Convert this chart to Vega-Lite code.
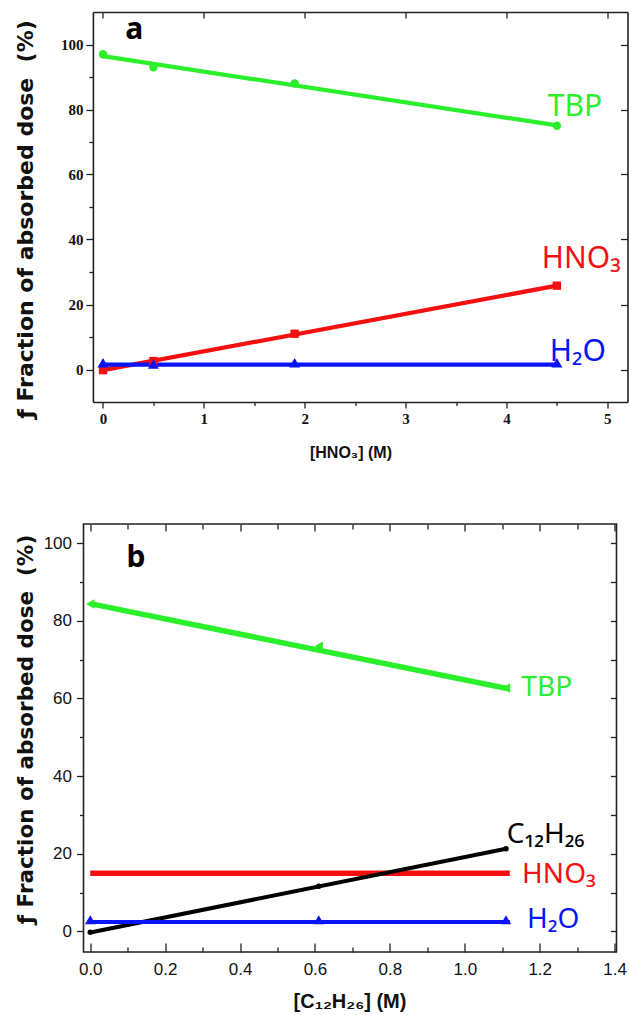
{
  "$schema": "https://vega.github.io/schema/vega-lite/v6.json",
  "background": "white",
  "padding": {"left": 14.5, "top": 11, "right": 0, "bottom": 0},
  "spacing": 62,
  "config": {
    "view": {"stroke": "#222", "strokeWidth": 1.6},
    "axis": {"grid": false, "domain": false, "domainColor": "#222", "domainWidth": 1.6, "tickColor": "#222", "tickWidth": 1.3, "labelColor": "#111", "titleColor": "#111", "labelFlush": false, "labelOverlap": false}
  },
  "resolve": {"scale": {"shape": "independent"}},
  "datasets": {
    "a_pts": [
      {"series": "TBP", "x": 0, "y": 97}, {"series": "TBP", "x": 0.5, "y": 93}, {"series": "TBP", "x": 1.9, "y": 88}, {"series": "TBP", "x": 4.5, "y": 75},
      {"series": "HNO3", "x": 0, "y": -0.2}, {"series": "HNO3", "x": 0.5, "y": 2.6}, {"series": "HNO3", "x": 1.9, "y": 11}, {"series": "HNO3", "x": 4.5, "y": 25.8},
      {"series": "H2O", "x": 0, "y": 2.1}, {"series": "H2O", "x": 0.5, "y": 1.7}, {"series": "H2O", "x": 1.9, "y": 2.1}, {"series": "H2O", "x": 4.5, "y": 2.1}
    ],
    "a_fit": [
      {"series": "TBP", "x": 0, "y": 96.4}, {"series": "TBP", "x": 4.5, "y": 75.1},
      {"series": "HNO3", "x": 0, "y": -0.2}, {"series": "HNO3", "x": 4.5, "y": 25.8},
      {"series": "H2O", "x": 0, "y": 1.5}, {"series": "H2O", "x": 4.5, "y": 1.5}
    ],
    "a_lbl": [
      {"series": "TBP", "label": "TBP", "x": 4.41, "y": 77.9},
      {"series": "HNO3", "label": "HNO₃", "x": 4.35, "y": 31.2},
      {"series": "H2O", "label": "H₂O", "x": 4.43, "y": 2.6}
    ],
    "a_tag": [{"t": "a", "x": 0.31, "y": 101.6}],
    "b_pts": [
      {"series": "TBP", "x": 0, "y": 84.3}, {"series": "TBP", "x": 0.61, "y": 73.4}, {"series": "TBP", "x": 1.11, "y": 62.7},
      {"series": "C12H26", "x": 0, "y": -0.2}, {"series": "C12H26", "x": 0.61, "y": 11.6}, {"series": "C12H26", "x": 1.11, "y": 21.3},
      {"series": "H2O", "x": 0, "y": 3.0}, {"series": "H2O", "x": 0.61, "y": 3.0}, {"series": "H2O", "x": 1.11, "y": 3.0}
    ],
    "b_fit": [
      {"series": "TBP", "x": 0, "y": 84.4}, {"series": "TBP", "x": 1.12, "y": 62.4},
      {"series": "HNO3", "x": 0, "y": 15}, {"series": "HNO3", "x": 1.12, "y": 15},
      {"series": "C12H26", "x": 0, "y": -0.3}, {"series": "C12H26", "x": 1.11, "y": 21.3},
      {"series": "H2O", "x": 0, "y": 2.4}, {"series": "H2O", "x": 1.12, "y": 2.4}
    ],
    "b_lbl": [
      {"series": "TBP", "label": "TBP", "x": 1.151, "y": 60.5},
      {"series": "C12H26", "label": "C₁₂H₂₆", "x": 1.112, "y": 22.8},
      {"series": "HNO3", "label": "HNO₃", "x": 1.153, "y": 12.5},
      {"series": "H2O", "label": "H₂O", "x": 1.166, "y": 0.95}
    ],
    "b_tag": [{"t": "b", "x": 0.122, "y": 93.9}]
  },
  "vconcat": [
    {
      "width": 544,
      "height": 390,
      "view": {"stroke": null},
      "resolve": {"axis": {"x": "independent", "y": "independent"}},
      "layer": [
        {
          "data": {"name": "a_fit"},
          "mark": {"type": "line", "strokeWidth": 4.2},
          "encoding": {
            "x": {"field": "x", "type": "quantitative", "scale": {"domain": [-0.1, 5.2], "range": [9.4, 544], "nice": false, "zero": false},
              "axis": {"orient": "bottom", "domain": true, "values": [0, 1, 2, 3, 4, 5], "format": "d", "tickSize": 6, "labelPadding": 3, "labelFont": "Liberation Sans Narrow", "labelFontWeight": "bold", "labelFontSize": 15,
                "title": "[HNO₃] (M)", "titleFont": "Liberation Sans", "titleFontWeight": "bold", "titleFontSize": 16, "titleX": 267, "titleY": 55, "titleBaseline": "alphabetic", "titleAlign": "center"}},
            "y": {"field": "y", "type": "quantitative", "scale": {"domain": [-10, 110], "nice": false, "zero": false},
              "axis": {"orient": "left", "offset": -9.4, "domain": true, "values": [0, 20, 40, 60, 80, 100], "tickSize": 7, "labelPadding": 3, "labelFont": "Liberation Sans Narrow", "labelFontWeight": "bold", "labelFontSize": 15,
                "title": "ƒ Fraction of absorbed dose\u00a0\u00a0(%)", "titleFont": "DejaVu Sans", "titleFontWeight": "bold", "titleFontSize": 22, "titleX": -60, "titleY": 207, "titleBaseline": "alphabetic", "titleAlign": "center", "titleAngle": -90}},
            "color": {"field": "series", "type": "nominal", "scale": {"domain": ["TBP", "HNO3", "H2O", "C12H26"], "range": ["#2bef2b", "#f41010", "#0a14f5", "#000000"]}, "legend": null},
            "detail": {"field": "series"}
          }
        },
        {
          "data": {"name": "a_pts"},
          "transform": [{"filter": {"field": "series", "oneOf": ["TBP", "HNO3"]}}],
          "mark": {"type": "point", "filled": true, "opacity": 1, "size": 70},
          "encoding": {
            "x": {"field": "x", "type": "quantitative", "scale": {"domain": [-0.1, 5.2], "range": [9.4, 544], "nice": false, "zero": false},
              "axis": {"orient": "bottom", "values": [0.5, 1.5, 2.5, 3.5, 4.5], "tickSize": 3.5, "labels": false, "title": null}},
            "y": {"field": "y", "type": "quantitative", "scale": {"domain": [-10, 110], "nice": false, "zero": false},
              "axis": {"orient": "left", "offset": -9.4, "values": [10, 30, 50, 70, 90], "tickSize": 4, "labels": false, "title": null}},
            "color": {"field": "series", "type": "nominal", "scale": {"domain": ["TBP", "HNO3", "H2O", "C12H26"], "range": ["#2bef2b", "#f41010", "#0a14f5", "#000000"]}, "legend": null},
            "shape": {"field": "series", "type": "nominal", "scale": {"domain": ["TBP", "HNO3"], "range": ["circle", "square"]}, "legend": null}
          }
        },
        {
          "data": {"name": "a_pts"},
          "transform": [{"filter": {"field": "series", "equal": "H2O"}}],
          "mark": {"type": "point", "filled": true, "opacity": 1, "size": 120, "shape": "triangle-up"},
          "encoding": {
            "x": {"field": "x", "type": "quantitative", "scale": {"domain": [-0.1, 5.2], "range": [9.4, 544], "nice": false, "zero": false}, "axis": null},
            "y": {"field": "y", "type": "quantitative", "scale": {"domain": [-10, 110], "nice": false, "zero": false}, "axis": null},
            "color": {"field": "series", "type": "nominal", "scale": {"domain": ["TBP", "HNO3", "H2O", "C12H26"], "range": ["#2bef2b", "#f41010", "#0a14f5", "#000000"]}, "legend": null}
          }
        },
        {
          "data": {"name": "a_lbl"},
          "mark": {"type": "text", "font": "Noto Sans", "fontSize": 30, "align": "left", "baseline": "alphabetic"},
          "encoding": {
            "x": {"field": "x", "type": "quantitative", "scale": {"domain": [-0.1, 5.2], "range": [9.4, 544], "nice": false, "zero": false},
              "axis": {"orient": "top", "values": [0, 1, 2, 3, 4, 5], "tickSize": 6, "offset": -6, "labels": false, "title": null}},
            "y": {"field": "y", "type": "quantitative", "scale": {"domain": [-10, 110], "nice": false, "zero": false},
              "axis": {"orient": "right", "values": [0, 20, 40, 60, 80, 100], "tickSize": 7, "offset": -7, "labels": false, "title": null}},
            "text": {"field": "label"},
            "color": {"field": "series", "type": "nominal", "scale": {"domain": ["TBP", "HNO3", "H2O", "C12H26"], "range": ["#2bef2b", "#f41010", "#0a14f5", "#000000"]}, "legend": null}
          }
        },
        {
          "data": {"name": "a_tag"},
          "mark": {"type": "text", "font": "Noto Sans", "fontWeight": "bold", "fontSize": 30, "align": "center", "baseline": "alphabetic", "color": "#000"},
          "encoding": {
            "x": {"field": "x", "type": "quantitative", "scale": {"domain": [-0.1, 5.2], "range": [9.4, 544], "nice": false, "zero": false},
              "axis": {"orient": "top", "domain": true, "ticks": false, "labels": false, "title": null}},
            "y": {"field": "y", "type": "quantitative", "scale": {"domain": [-10, 110], "nice": false, "zero": false},
              "axis": {"orient": "right", "domain": true, "ticks": false, "labels": false, "title": null}},
            "text": {"field": "t"}
          }
        }
      ]
    },
    {
      "width": 533,
      "height": 428,
      "resolve": {"axis": {"x": "independent", "y": "independent"}},
      "layer": [
        {
          "data": {"name": "b_fit"},
          "transform": [{"filter": {"field": "series", "oneOf": ["TBP", "HNO3"]}}],
          "mark": {"type": "line", "strokeWidth": 5.5},
          "encoding": {
            "x": {"field": "x", "type": "quantitative", "scale": {"domain": [-0.018, 1.405], "nice": false, "zero": false},
              "axis": {"orient": "bottom", "values": [0, 0.2, 0.4, 0.6, 0.8, 1.0, 1.2, 1.4], "format": ".1f", "ticks": false, "labelPadding": 9, "labelFont": "Liberation Sans", "labelFontSize": 17,
                "title": "[C₁₂H₂₆] (M)", "titleFont": "Liberation Sans", "titleFontWeight": "bold", "titleFontSize": 20, "titleX": 266, "titleY": 55, "titleBaseline": "alphabetic", "titleAlign": "center"}},
            "y": {"field": "y", "type": "quantitative", "scale": {"domain": [-5.3, 104.9], "nice": false, "zero": false},
              "axis": {"orient": "left", "values": [0, 20, 40, 60, 80, 100], "tickSize": 7, "labelPadding": 5, "labelFont": "Liberation Sans", "labelFontSize": 17,
                "title": "ƒ Fraction of absorbed dose\u00a0\u00a0(%)", "titleFont": "DejaVu Sans", "titleFontWeight": "bold", "titleFontSize": 21.5, "titleX": -50.6, "titleY": 205, "titleBaseline": "alphabetic", "titleAlign": "center", "titleAngle": -90}},
            "color": {"field": "series", "type": "nominal", "scale": {"domain": ["TBP", "HNO3", "H2O", "C12H26"], "range": ["#2bef2b", "#f41010", "#0a14f5", "#000000"]}, "legend": null},
            "detail": {"field": "series"}
          }
        },
        {
          "data": {"name": "b_fit"},
          "transform": [{"filter": {"field": "series", "oneOf": ["C12H26", "H2O"]}}],
          "mark": {"type": "line", "strokeWidth": 4},
          "encoding": {
            "x": {"field": "x", "type": "quantitative", "scale": {"domain": [-0.018, 1.405], "nice": false, "zero": false},
              "axis": {"orient": "top", "values": [0.1, 0.3, 0.5, 0.7, 0.9, 1.1, 1.3], "tickSize": 5, "offset": -5, "labels": false, "title": null}},
            "y": {"field": "y", "type": "quantitative", "scale": {"domain": [-5.3, 104.9], "nice": false, "zero": false},
              "axis": {"orient": "left", "values": [10, 30, 50, 70, 90], "tickSize": 4, "labels": false, "title": null}},
            "color": {"field": "series", "type": "nominal", "scale": {"domain": ["TBP", "HNO3", "H2O", "C12H26"], "range": ["#2bef2b", "#f41010", "#0a14f5", "#000000"]}, "legend": null},
            "detail": {"field": "series"}
          }
        },
        {
          "data": {"name": "b_pts"},
          "transform": [{"filter": {"field": "series", "equal": "TBP"}}],
          "mark": {"type": "point", "filled": true, "opacity": 1, "size": 90, "shape": "triangle-left"},
          "encoding": {
            "x": {"field": "x", "type": "quantitative", "scale": {"domain": [-0.018, 1.405], "nice": false, "zero": false},
              "axis": {"orient": "bottom", "values": [0, 0.2, 0.4, 0.6, 0.8, 1.0, 1.2, 1.4], "tickSize": 9, "offset": -9, "labels": false, "title": null}},
            "y": {"field": "y", "type": "quantitative", "scale": {"domain": [-5.3, 104.9], "nice": false, "zero": false},
              "axis": {"orient": "right", "values": [0, 10, 20, 30, 40, 50, 60, 70, 80, 90, 100], "tickSize": 6, "offset": -6, "labels": false, "title": null}},
            "color": {"field": "series", "type": "nominal", "scale": {"domain": ["TBP", "HNO3", "H2O", "C12H26"], "range": ["#2bef2b", "#f41010", "#0a14f5", "#000000"]}, "legend": null}
          }
        },
        {
          "data": {"name": "b_pts"},
          "transform": [{"filter": {"field": "series", "equal": "C12H26"}}],
          "mark": {"type": "point", "filled": true, "opacity": 1, "size": 30, "shape": "circle"},
          "encoding": {
            "x": {"field": "x", "type": "quantitative", "scale": {"domain": [-0.018, 1.405], "nice": false, "zero": false}, "axis": null},
            "y": {"field": "y", "type": "quantitative", "scale": {"domain": [-5.3, 104.9], "nice": false, "zero": false}, "axis": null},
            "color": {"field": "series", "type": "nominal", "scale": {"domain": ["TBP", "HNO3", "H2O", "C12H26"], "range": ["#2bef2b", "#f41010", "#0a14f5", "#000000"]}, "legend": null}
          }
        },
        {
          "data": {"name": "b_pts"},
          "transform": [{"filter": {"field": "series", "equal": "H2O"}}],
          "mark": {"type": "point", "filled": true, "opacity": 1, "size": 110, "shape": "triangle-up"},
          "encoding": {
            "x": {"field": "x", "type": "quantitative", "scale": {"domain": [-0.018, 1.405], "nice": false, "zero": false}, "axis": null},
            "y": {"field": "y", "type": "quantitative", "scale": {"domain": [-5.3, 104.9], "nice": false, "zero": false}, "axis": null},
            "color": {"field": "series", "type": "nominal", "scale": {"domain": ["TBP", "HNO3", "H2O", "C12H26"], "range": ["#2bef2b", "#f41010", "#0a14f5", "#000000"]}, "legend": null}
          }
        },
        {
          "data": {"name": "b_lbl"},
          "mark": {"type": "text", "font": "Noto Sans", "fontSize": 28, "align": "left", "baseline": "alphabetic"},
          "encoding": {
            "x": {"field": "x", "type": "quantitative", "scale": {"domain": [-0.018, 1.405], "nice": false, "zero": false},
              "axis": {"orient": "bottom", "values": [0.1, 0.3, 0.5, 0.7, 0.9, 1.1, 1.3], "tickSize": 5, "offset": -5, "labels": false, "title": null}},
            "y": {"field": "y", "type": "quantitative", "scale": {"domain": [-5.3, 104.9], "nice": false, "zero": false}, "axis": null},
            "text": {"field": "label"},
            "color": {"field": "series", "type": "nominal", "scale": {"domain": ["TBP", "HNO3", "H2O", "C12H26"], "range": ["#2bef2b", "#f41010", "#0a14f5", "#000000"]}, "legend": null}
          }
        },
        {
          "data": {"name": "b_tag"},
          "mark": {"type": "text", "font": "Noto Sans", "fontWeight": "bold", "fontSize": 30, "align": "center", "baseline": "alphabetic", "color": "#000"},
          "encoding": {
            "x": {"field": "x", "type": "quantitative", "scale": {"domain": [-0.018, 1.405], "nice": false, "zero": false},
              "axis": {"orient": "top", "values": [0, 0.2, 0.4, 0.6, 0.8, 1.0, 1.2, 1.4], "tickSize": 7, "offset": -7, "labels": false, "title": null}},
            "y": {"field": "y", "type": "quantitative", "scale": {"domain": [-5.3, 104.9], "nice": false, "zero": false}, "axis": null},
            "text": {"field": "t"}
          }
        }
      ]
    }
  ]
}
